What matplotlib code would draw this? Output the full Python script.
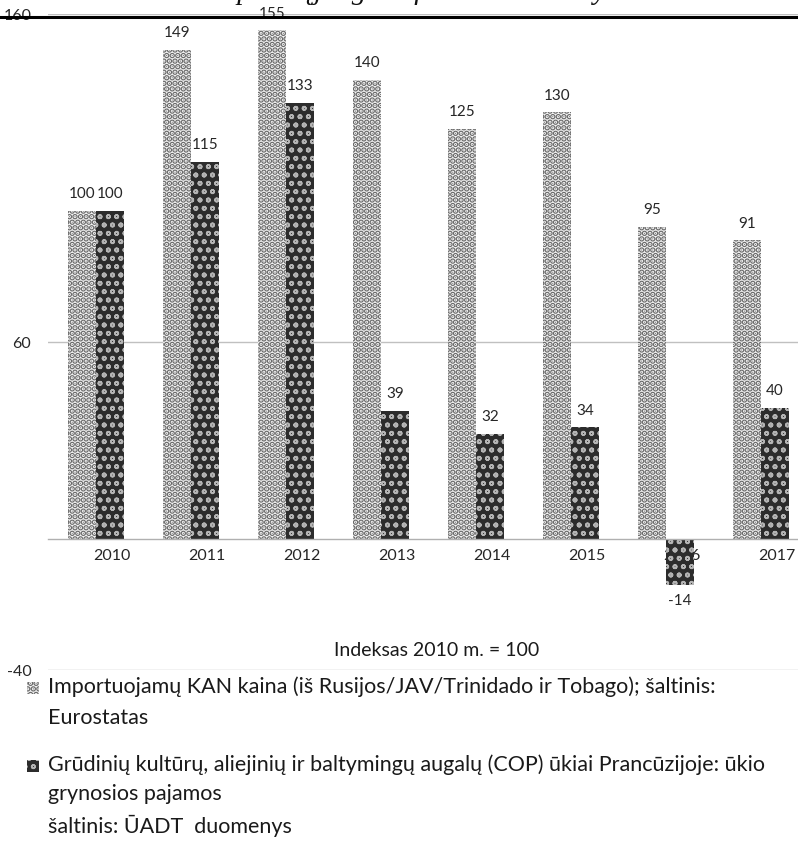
import matplotlib
matplotlib.use("Agg")
import matplotlib.pyplot as plt
from matplotlib.patches import Rectangle
import numpy as np

years = ["2010", "2011", "2012", "2013", "2014", "2015", "2016", "2017"]
kan_price = [100, 149, 155, 140, 125, 130, 95, 91]
cop_income = [100, 115, 133, 39, 32, 34, -14, 40]
y_ticks = [-40, 60, 160]
label_kan = "Importuojamų KAN kaina (iš Rusijos/JAV/Trinidado ir Tobago); šaltinis:\nEurostatas"
label_cop = ("Grūdinių kultūrų, aliejinių ir baltymingų augalų (COP) ūkiai Prancūzijoje: ūkio\n"
             "grynosios pajamos\nšaltinis: ŪADT  duomenys")
axis_note = "Indeksas 2010 m. = 100"
header = "Europos Sąjungos oficialusis leidinys"

plt.rcParams['font.family'] = ['Lato', 'DejaVu Sans']

W, H = 798, 841
fig = plt.figure(figsize=(W / 100, H / 100), dpi=100)
ax = fig.add_axes([48 / W, 1 - 670 / H, 750 / W, 656 / H])

x = np.arange(len(years))
shift = 16 / 95
bw = 0.29
kan_style = dict(facecolor='#f4f4f4', edgecolor='#6a6a6a', hatch='...', linewidth=0)
cop_style = dict(facecolor='#2c2c2c', edgecolor='#b4b4b4', hatch='oo', linewidth=0)
with plt.rc_context({'hatch.linewidth': 3.0}):
    b1 = ax.bar(x - shift - bw / 2, kan_price, bw, **kan_style, zorder=3)
    leg1 = Rectangle((27 / W, 1 - 694 / H), 12 / W, 12 / H, transform=fig.transFigure, **kan_style)
with plt.rc_context({'hatch.linewidth': 1.2}):
    b2 = ax.bar(x - shift + bw / 2, cop_income, bw, **cop_style, zorder=3)
    leg2 = Rectangle((27 / W, 1 - 772 / H), 12 / W, 12 / H, transform=fig.transFigure, **cop_style)

for bars in (b1, b2):
    for rect in bars:
        v = rect.get_height()
        cx = rect.get_x() + rect.get_width() / 2
        if v >= 0:
            ax.annotate(f"{v:.0f}", (cx, v), xytext=(0, 7), textcoords='offset points',
                        ha='center', va='bottom', fontsize=11, color='#262626', zorder=5)
        else:
            ax.annotate(f"{v:.0f}", (cx, v), xytext=(0, -7), textcoords='offset points',
                        ha='center', va='top', fontsize=11, color='#262626', zorder=5)

ax.set_xlim(-64 / 95, -64 / 95 + 750 / 95)
ax.set_ylim(-40, 160)
ax.set_yticks(y_ticks)
ax.set_yticklabels([str(t) for t in y_ticks])
ax.yaxis.grid(True, color='#c0c0c0', linewidth=1.0, zorder=0)
ax.set_axisbelow(True)
ax.tick_params(axis='y', length=0, pad=12, labelsize=11.5, labelcolor='#262626')
ax.set_xticks(x)
ax.set_xticklabels(years)
ax.tick_params(axis='x', length=0, pad=7, labelsize=11.5, labelcolor='#262626')
for s in ('top', 'right', 'left'):
    ax.spines[s].set_visible(False)
ax.spines['bottom'].set_position(('data', 0))
ax.spines['bottom'].set_color('#b0b0b0')
ax.spines['bottom'].set_linewidth(1.0)
ax.spines['bottom'].set_zorder(4)

fig.text(437 / W, 1 - 651 / H, axis_note, ha='center', va='center', fontsize=14, color='#1a1a1a')

# header clipped at top and black rule
fig.text(0.5, 1 + 1 / H, header, ha='center', va='baseline', fontsize=21,
         family='Liberation Serif', style='italic', color='#111111')
fig.add_artist(plt.Line2D([0, 1], [1 - 16.5 / H, 1 - 16.5 / H], transform=fig.transFigure,
                          color='black', linewidth=2.2))

# legend
fs_leg = 15.5
fig.text(48 / W, 1 - 676 / H, label_kan, ha='left', va='top', fontsize=fs_leg,
         color='#1a1a1a', linespacing=1.72)
fig.add_artist(leg1)
fig.text(48 / W, 1 - 754 / H, label_cop, ha='left', va='top', fontsize=fs_leg,
         color='#1a1a1a', linespacing=1.6)
fig.add_artist(leg2)

fig.savefig("out.png", dpi=100)
